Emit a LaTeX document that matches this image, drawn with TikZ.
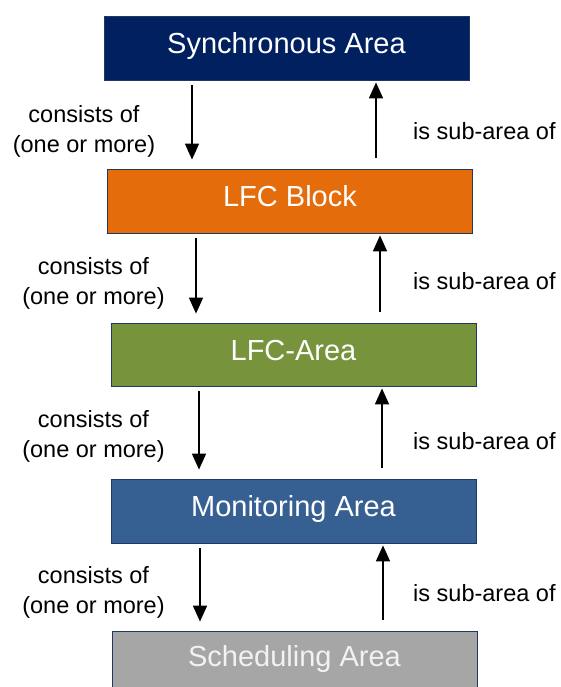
\documentclass[tikz,border=0pt]{standalone}
\usepackage{fontspec}
\setmainfont{Liberation Sans}
\usetikzlibrary{arrows.meta}
\definecolor{cnavy}{HTML}{002060}
\definecolor{corange}{HTML}{E46C0A}
\definecolor{cgreen}{HTML}{77933C}
\definecolor{cblue}{HTML}{376092}
\definecolor{cgrey}{HTML}{A6A6A6}
\definecolor{boxline}{HTML}{1F3864}
\definecolor{greytext}{HTML}{F2F2F2}
\begin{document}
\begin{tikzpicture}[x=1pt,y=-1pt,
  box/.style={draw=boxline, line width=0.8pt, minimum width=365pt, minimum height=64pt,
    text=white, font=\fontsize{29}{34}\selectfont, inner sep=0pt,
    text height=1.18em, text depth=0.04em},
  arr/.style={-{Triangle[width=14pt,length=16pt]}, line width=1.6pt},
  lbl/.style={font=\fontsize{23.5}{30}\selectfont, align=center, inner sep=0pt}]
\useasboundingbox (0,0) rectangle (560,687);
% boxes
\node[box, fill=cnavy]   (b1) at (286.5,48)  {Synchronous Area};
\node[box, fill=corange] (b2) at (290,201)   {LFC Block};
\node[box, fill=cgreen, minimum height=63pt] (b3) at (293.5,354.5) {LFC-Area};
\node[box, fill=cblue]   (b4) at (293.5,511) {Monitoring Area};
\node[box, fill=cgrey, text=greytext, minimum height=60pt] (b5) at (294.5,661) {Scheduling Area};
% x positions of arrows
\coordinate (d1) at (192,0); \coordinate (u1) at (376,0);
\coordinate (d2) at (196,0); \coordinate (u2) at (380,0);
\coordinate (d3) at (199,0); \coordinate (u3) at (382,0);
\coordinate (d4) at (200,0); \coordinate (u4) at (383,0);
% arrows
\draw[arr, shorten <=5pt, shorten >=9pt] (b1.south -| d1) -- (b2.north -| d1);
\draw[arr, shorten <=11pt, shorten >=2pt] (b2.north -| u1) -- (b1.south -| u1);
\draw[arr, shorten <=5pt, shorten >=9pt] (b2.south -| d2) -- (b3.north -| d2);
\draw[arr, shorten <=11pt, shorten >=2pt] (b3.north -| u2) -- (b2.south -| u2);
\draw[arr, shorten <=5pt, shorten >=9pt] (b3.south -| d3) -- (b4.north -| d3);
\draw[arr, shorten <=11pt, shorten >=2pt] (b4.north -| u3) -- (b3.south -| u3);
\draw[arr, shorten <=5pt, shorten >=9pt] (b4.south -| d4) -- (b5.north -| d4);
\draw[arr, shorten <=11pt, shorten >=2pt] (b5.north -| u4) -- (b4.south -| u4);
% labels
\node[lbl] (c1) at (84,131) {consists of\\(one or more)};
\node[lbl, anchor=west] (s1) at (413,131) {is sub-area of};
\node[lbl] (c2) at (93.5,283) {consists of\\(one or more)};
\node[lbl, anchor=west] (s2) at (413,281) {is sub-area of};
\node[lbl] (c3) at (93.5,436) {consists of\\(one or more)};
\node[lbl, anchor=west] (s3) at (413,441) {is sub-area of};
\node[lbl] (c4) at (93.5,592) {consists of\\(one or more)};
\node[lbl, anchor=west] (s4) at (413,593) {is sub-area of};
\end{tikzpicture}
\end{document}
